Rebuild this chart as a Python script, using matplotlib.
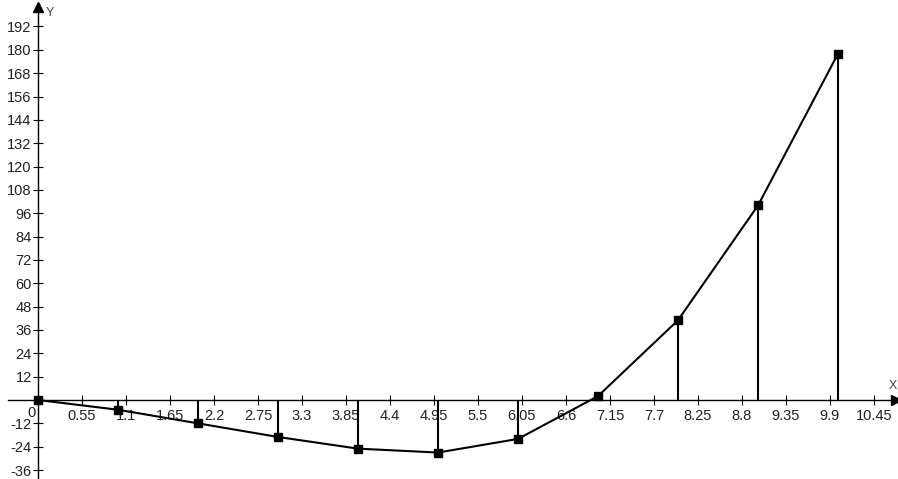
import numpy as np
from matplotlib import pyplot as plt

# values
x_vals = [0, 1, 2, 3, 4, 5, 6, 7, 8, 9, 10]
y_vals = [0, -5, -12, -19, -25, -27, -20, 2, 41, 100, 178]

x_ticks = np.round(np.arange(0.55, 10.46, 0.55), 2)
x_tick_labels = ["%g" % v for v in x_ticks]
y_ticks = [v for v in range(-36, 193, 12) if v != 0]
y_tick_labels = [str(v) for v in y_ticks]

plt.rcParams['font.family'] = ['Liberation Sans', 'DejaVu Sans']

fig = plt.figure(figsize=(8.98, 4.79), dpi=100)
ax = fig.add_axes([0, 0, 1, 1])
ax.set_xlim(-0.475, 10.75)
ax.set_ylim(-40.6, 205.6)

# axes through the origin
ax.spines['top'].set_visible(False)
ax.spines['right'].set_visible(False)
ax.spines['left'].set_position(('data', 0))
ax.spines['bottom'].set_position(('data', 0))
ax.spines['bottom'].set_bounds(-0.375, 10.7)
ax.spines['left'].set_bounds(-40.6, 202)
for s in ('left', 'bottom'):
    ax.spines[s].set_linewidth(1.0)

ax.set_xticks(x_ticks)
ax.set_xticklabels(x_tick_labels)
ax.set_yticks(y_ticks)
ax.set_yticklabels(y_tick_labels)
ax.tick_params(direction='inout', length=7, width=0.8, labelsize=10.5,
               labelcolor='#222222', pad=1)
ax.tick_params(axis='x', pad=3)

# arrow heads and axis names
ax.plot([10.72], [0], marker='>', color='black', markersize=7, clip_on=False)
ax.plot([0], [202], marker='^', color='black', markersize=7, clip_on=False)
ax.text(0.1, 199, "Y", fontsize=9, color='#444444', ha='left', va='center')
ax.text(10.64, 7, "X", fontsize=9, color='#444444', ha='left', va='center')
ax.text(-0.03, -3, "0", fontsize=10.5, color='#222222', ha='right', va='top')

# stems, polyline and markers
ax.vlines(x_vals[1:], 0, y_vals[1:], color='black', linewidth=1.5)
ax.plot(x_vals, y_vals, color='black', linewidth=1.5, marker='s',
        markersize=6, clip_on=False)

fig.savefig("out.png", dpi=100)
